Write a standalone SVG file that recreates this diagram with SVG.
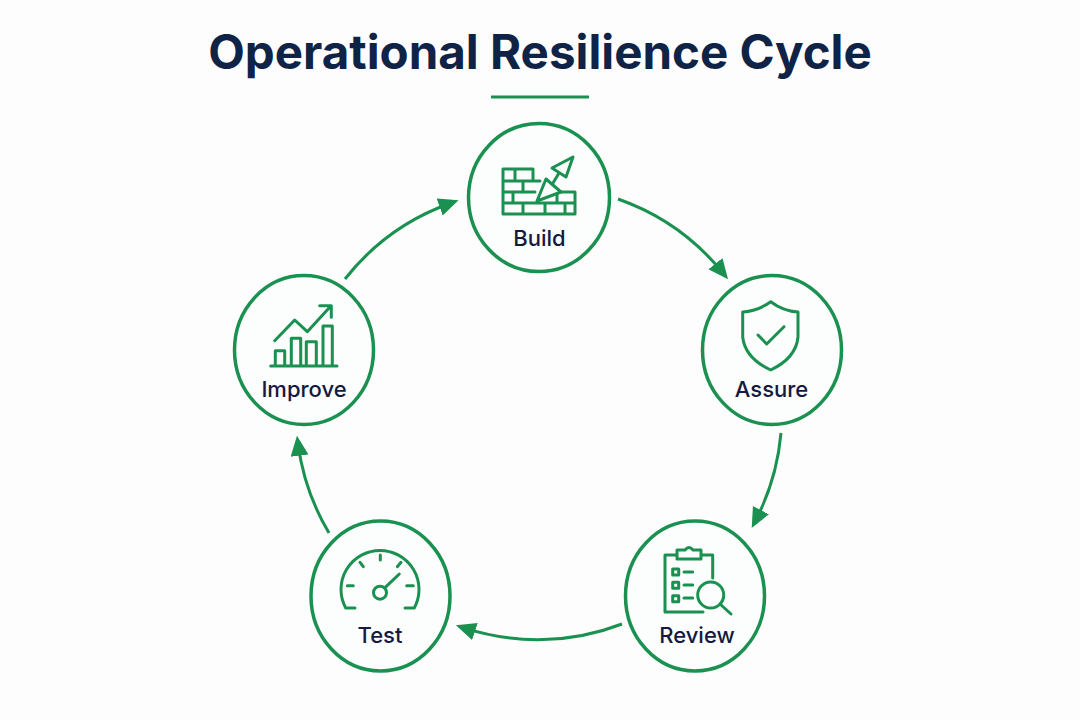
<svg xmlns="http://www.w3.org/2000/svg" width="1080" height="720" viewBox="0 0 1080 720">
<style>
.ring{fill:#fcfdfd;stroke:#1a9150;stroke-width:3.5}
.ic{fill:none;stroke:#1a9150;stroke-width:3;stroke-linecap:round;stroke-linejoin:round}
.lbl{font-family:Inter,"Liberation Sans",sans-serif;font-weight:550;font-size:22px;fill:#15193f;text-anchor:middle}
.arc{fill:none;stroke:#1a9150;stroke-width:3;marker-end:url(#ah)}
</style>
<defs>
<marker id="ah" markerUnits="userSpaceOnUse" markerWidth="24" markerHeight="20" refX="12" refY="9" orient="auto"><path d="M0 0L20 9L0 18Z" fill="#1a9150"/></marker>
</defs>
<rect width="1080" height="720" fill="#fdfdfd"/>
<text x="540" y="69" text-anchor="middle" font-family="Inter,'Liberation Sans',sans-serif" font-weight="700" font-size="47.500" fill="#0f2347">Operational Resilience Cycle</text>
<rect x="491" y="95.500" width="98" height="3" fill="#1a9150"/>
<g id="connectors">
<path class="arc" d="M618 199A235 235 0 0 1 723 273"/>
<path class="arc" d="M781 433A235 235 0 0 1 755.400 520.800"/>
<path class="arc" d="M622 624A235 235 0 0 1 463.500 627.700"/>
<path class="arc" d="M329 533A235 235 0 0 1 298 443.700"/>
<path class="arc" d="M345 279A235 235 0 0 1 451 203"/>
</g>
<g id="build">
<ellipse class="ring" cx="539" cy="197.500" rx="70.500" ry="74"/>
<path class="ic" d="M540 181H503V169H533V181M503 181V192H535M503 192V203H575M503 203V214H575V203M515 169V181M523 181V192M513 192V203M523 203V214M545 203V214M565 203V214M560 192H575V203M557 192V203"/>
<path class="ic" d="M537 201L546 179L561 192ZM553 183L559 173M552 168L573 157L566 177Z" style="fill:#fcfdfd"/>
<text class="lbl" x="539.500" y="246">Build</text>
</g>
<g id="assure">
<ellipse class="ring" cx="772" cy="350" rx="69.500" ry="74.500"/>
<path class="ic" d="M770.700 301.700Q758 311 742.700 312V337Q745 358 770.700 370Q796 358 798 337V312Q783 311 770.700 301.700Z"/>
<path class="ic" d="M758 335L766.700 344L784 326.700"/>
<text class="lbl" x="771.500" y="397">Assure</text>
</g>
<g id="review">
<ellipse class="ring" cx="695" cy="596" rx="69.500" ry="75"/>
<path class="ic" d="M677 555H665V612H703M701 555H712.700V578M677 550H685Q689 545 693 550H701V559H677Z"/>
<path class="ic" d="M672.700 569h6v6h-6zM672.700 582.300h6v6h-6zM672.700 595.700h6v6h-6zM684 572h8.700M684 585h8.700M684 598h8.700"/>
<circle class="ic" cx="710.700" cy="595" r="13"/>
<path class="ic" d="M720 604L731 614"/>
<text class="lbl" x="697" y="643">Review</text>
</g>
<g id="test">
<ellipse class="ring" cx="380.500" cy="596" rx="69.500" ry="75"/>
<path class="ic" d="M355 608H345.700A39 39 0 1 1 414.300 608H405"/>
<circle class="ic" cx="380" cy="592.700" r="6.500"/>
<path class="ic" d="M385 587.700L399.300 574M347.300 585.700H353.300M406.700 585.700H413.300M360 562.300L363.300 566.700M380.300 555V560M401 562.300L397.300 566.700"/>
<text class="lbl" x="380" y="643">Test</text>
</g>
<g id="improve">
<ellipse class="ring" cx="304" cy="350" rx="69.500" ry="74.500"/>
<path class="ic" d="M270.700 366H337M275.300 366V350.700H284.700V366M291.300 366V338.300H300.700V366M306.300 366V341.700H316.300V366M323 366V326H332.300V366"/>
<path class="ic" d="M274.700 340.700L294.700 320L307.300 331.700L329.700 307.300M319.700 305.700H331.300V317.300"/>
<text class="lbl" x="304" y="397">Improve</text>
</g>
</svg>
